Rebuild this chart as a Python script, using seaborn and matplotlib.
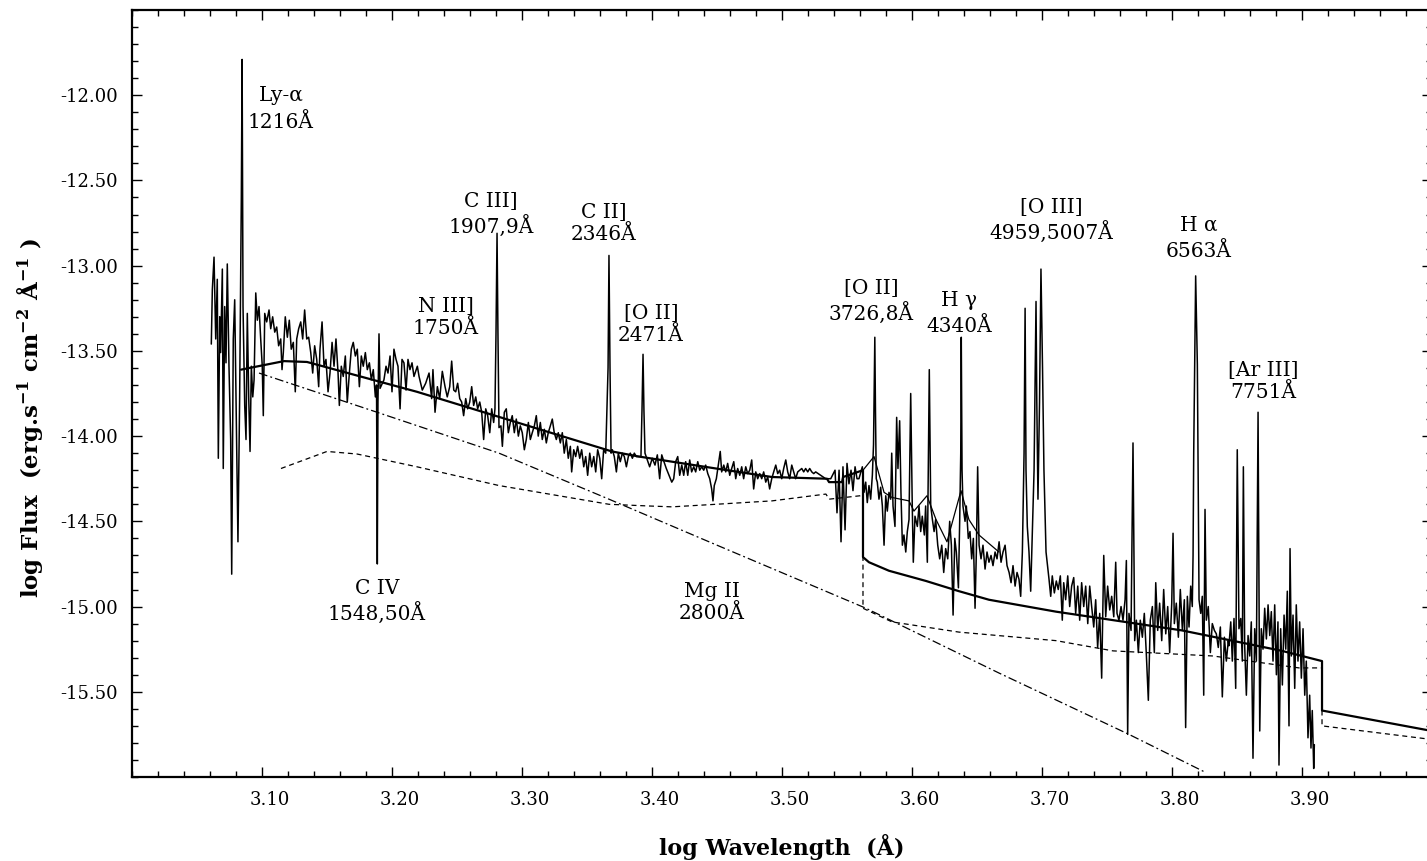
import numpy as np
import pandas as pd
import matplotlib
matplotlib.use("Agg")
import matplotlib.pyplot as plt
import matplotlib.transforms as mtransforms
import seaborn as sns
from matplotlib.ticker import FixedLocator, MultipleLocator, FormatStrFormatter

# style
sns.set_style("ticks")
plt.rcParams['font.family'] = ['DejaVu Serif']
plt.rcParams['mathtext.fontset'] = 'dejavuserif'
plt.rcParams['mathtext.default'] = 'bf'
plt.rcParams['text.color'] = 'black'
plt.rcParams['axes.labelcolor'] = 'black'

blue_logw = [3.0610, 3.0618, 3.0631, 3.0644, 3.0656, 3.0664, 3.0675, 3.0682, 3.0695, 3.0702,
             3.0713, 3.0723, 3.0733, 3.0746, 3.0759, 3.0767, 3.0779, 3.0790, 3.0802, 3.0815,
             3.0828, 3.0841, 3.0847, 3.0854, 3.0867, 3.0877, 3.0887, 3.0898, 3.0908, 3.0918,
             3.0929, 3.0939, 3.0952, 3.0964, 3.0977, 3.0990, 3.1002, 3.1010, 3.1021, 3.1036,
             3.1054, 3.1067, 3.1082, 3.1098, 3.1113, 3.1128, 3.1144, 3.1154, 3.1164, 3.1179,
             3.1195, 3.1210, 3.1225, 3.1241, 3.1256, 3.1267, 3.1282, 3.1298, 3.1313, 3.1328,
             3.1344, 3.1359, 3.1375, 3.1390, 3.1405, 3.1421, 3.1436, 3.1446, 3.1462, 3.1477,
             3.1492, 3.1508, 3.1523, 3.1539, 3.1554, 3.1569, 3.1585, 3.1595, 3.1610, 3.1625,
             3.1641, 3.1656, 3.1672, 3.1687, 3.1702, 3.1718, 3.1733, 3.1749, 3.1764, 3.1779,
             3.1795, 3.1810, 3.1826, 3.1841, 3.1856, 3.1872, 3.1881, 3.1887, 3.1892, 3.1900,
             3.1908, 3.1938, 3.1954, 3.1969, 3.1985, 3.2000, 3.2015, 3.2031, 3.2046, 3.2062,
             3.2077, 3.2092, 3.2108, 3.2123, 3.2138, 3.2154, 3.2169, 3.2195]
blue_logf = [-13.46, -13.14, -12.95, -13.43, -13.08, -14.13, -13.30, -13.51, -13.02, -14.19,
             -13.24, -13.57, -12.99, -13.59, -14.02, -14.81, -13.43, -13.20, -13.88, -14.62,
             -13.78, -12.60, -11.79, -13.24, -13.82, -14.02, -13.28, -13.78, -14.09, -13.59,
             -13.77, -13.67, -13.16, -13.32, -13.24, -13.43, -13.59, -13.88, -13.28, -13.33,
             -13.26, -13.37, -13.30, -13.39, -13.36, -13.47, -13.43, -13.61, -13.51, -13.30,
             -13.42, -13.32, -13.49, -13.45, -13.74, -13.43, -13.37, -13.33, -13.43, -13.26,
             -13.43, -13.42, -13.51, -13.63, -13.47, -13.55, -13.71, -13.49, -13.33, -13.59,
             -13.55, -13.74, -13.63, -13.45, -13.59, -13.43, -13.63, -13.82, -13.59, -13.65,
             -13.53, -13.80, -13.63, -13.49, -13.45, -13.53, -13.49, -13.71, -13.53, -13.59,
             -13.51, -13.61, -13.57, -13.67, -13.61, -13.77, -13.70, -14.75, -13.80, -13.40,
             -13.72, -13.67, -13.59, -13.63, -13.53, -13.74, -13.49, -13.55, -13.59, -13.84,
             -13.55, -13.57, -13.73, -13.55, -13.61, -13.57, -13.65, -13.59]

mid_logw = [3.2208, 3.2233, 3.2259, 3.2285, 3.2305, 3.2315, 3.2331, 3.2349, 3.2367, 3.2387,
            3.2408, 3.2425, 3.2444, 3.2459, 3.2475, 3.2490, 3.2505, 3.2521, 3.2536, 3.2551,
            3.2567, 3.2582, 3.2598, 3.2613, 3.2628, 3.2644, 3.2659, 3.2675, 3.2690, 3.2705,
            3.2721, 3.2736, 3.2752, 3.2767, 3.2782, 3.2792, 3.2800, 3.2808, 3.2815, 3.2823,
            3.2838, 3.2849, 3.2864, 3.2879, 3.2895, 3.2910, 3.2925, 3.2941, 3.2956, 3.2972,
            3.2987, 3.3002, 3.3018, 3.3033, 3.3049, 3.3064, 3.3079, 3.3095, 3.3110, 3.3125,
            3.3141, 3.3156, 3.3172, 3.3187, 3.3202, 3.3218, 3.3233, 3.3248, 3.3264, 3.3279,
            3.3295, 3.3310, 3.3325, 3.3341, 3.3356, 3.3372, 3.3382, 3.3398, 3.3413, 3.3428,
            3.3444, 3.3459, 3.3475, 3.3490, 3.3505, 3.3521, 3.3536, 3.3552, 3.3567, 3.3582,
            3.3598, 3.3613, 3.3628, 3.3644, 3.3662, 3.3669, 3.3677, 3.3685, 3.3695, 3.3710,
            3.3726, 3.3741, 3.3756, 3.3772, 3.3787, 3.3803, 3.3818, 3.3833, 3.3849, 3.3864,
            3.3879, 3.3915, 3.3923, 3.3931, 3.3938, 3.3946, 3.3964, 3.3982, 3.4002, 3.4023,
            3.4041, 3.4059, 3.4075, 3.4092, 3.4110, 3.4131, 3.4152, 3.4167, 3.4182, 3.4198,
            3.4213, 3.4229, 3.4244, 3.4259, 3.4275, 3.4290, 3.4305, 3.4321, 3.4336, 3.4352,
            3.4367, 3.4382, 3.4398, 3.4413, 3.4429, 3.4444, 3.4459, 3.4469, 3.4479, 3.4495,
            3.4510, 3.4525, 3.4536, 3.4552, 3.4567, 3.4582, 3.4598, 3.4613, 3.4629, 3.4644,
            3.4659, 3.4675, 3.4690, 3.4705, 3.4721, 3.4736, 3.4752, 3.4767, 3.4782, 3.4798,
            3.4813, 3.4829, 3.4844, 3.4859, 3.4875, 3.4890, 3.4905, 3.4921, 3.4936, 3.4952,
            3.4967, 3.4982, 3.4998, 3.5013, 3.5029, 3.5044, 3.5059, 3.5075, 3.5090, 3.5105,
            3.5121, 3.5136, 3.5152, 3.5167, 3.5182, 3.5198, 3.5213, 3.5229, 3.5244, 3.5259,
            3.5336, 3.5375]
mid_logf = [-13.65, -13.73, -13.69, -13.63, -13.78, -13.61, -13.86, -13.71, -13.78, -13.62,
            -13.71, -13.77, -13.71, -13.56, -13.73, -13.74, -13.69, -13.78, -13.80, -13.88,
            -13.78, -13.84, -13.80, -13.71, -13.82, -13.77, -13.84, -13.80, -13.86, -14.02,
            -13.84, -13.88, -13.98, -13.84, -13.92, -13.84, -13.40, -12.81, -13.40, -13.95,
            -13.94, -14.06, -13.86, -13.84, -13.98, -13.92, -13.88, -13.98, -13.90, -14.00,
            -13.94, -13.98, -14.08, -14.02, -13.92, -14.02, -13.98, -13.94, -13.88, -14.00,
            -13.92, -14.02, -13.96, -14.04, -13.98, -13.94, -13.90, -13.98, -14.02, -13.98,
            -14.04, -13.98, -14.10, -14.02, -14.13, -14.06, -14.21, -14.08, -14.12, -14.06,
            -14.13, -14.08, -14.18, -14.12, -14.23, -14.10, -14.18, -14.12, -14.21, -14.08,
            -14.13, -14.25, -14.08, -14.10, -13.60, -12.94, -13.60, -14.10, -14.08, -14.12,
            -14.21, -14.10, -14.15, -14.10, -14.12, -14.18, -14.12, -14.10, -14.13, -14.10,
            -14.12, -14.12, -13.85, -13.52, -13.85, -14.10, -14.14, -14.18, -14.13, -14.17,
            -14.11, -14.25, -14.11, -14.15, -14.19, -14.23, -14.27, -14.25, -14.15, -14.12,
            -14.23, -14.17, -14.23, -14.15, -14.23, -14.14, -14.21, -14.18, -14.21, -14.15,
            -14.20, -14.18, -14.20, -14.17, -14.22, -14.25, -14.31, -14.38, -14.29, -14.25,
            -14.17, -14.09, -14.21, -14.17, -14.21, -14.16, -14.23, -14.19, -14.15, -14.25,
            -14.19, -14.23, -14.18, -14.25, -14.18, -14.22, -14.20, -14.14, -14.31, -14.21,
            -14.25, -14.22, -14.25, -14.21, -14.27, -14.24, -14.31, -14.25, -14.21, -14.17,
            -14.22, -14.20, -14.25, -14.19, -14.14, -14.21, -14.25, -14.17, -14.21, -14.25,
            -14.21, -14.20, -14.19, -14.21, -14.19, -14.21, -14.19, -14.21, -14.22, -14.21,
            -14.25, -14.25]

red_logw = [3.5408, 3.5423, 3.5439, 3.5454, 3.5469, 3.5485, 3.5500, 3.5515, 3.5531, 3.5546,
            3.5562, 3.5577, 3.5592, 3.5618, 3.5631, 3.5644, 3.5656, 3.5669, 3.5682, 3.5695,
            3.5704, 3.5709, 3.5714, 3.5719, 3.5725, 3.5733, 3.5746, 3.5759, 3.5772, 3.5785,
            3.5798, 3.5810, 3.5823, 3.5836, 3.5844, 3.5854, 3.5869, 3.5882, 3.5892, 3.5905,
            3.5915, 3.5926, 3.5938, 3.5952, 3.5964, 3.5977, 3.5990, 3.6002, 3.6010, 3.6023,
            3.6041, 3.6054, 3.6067, 3.6079, 3.6095, 3.6105, 3.6118, 3.6133, 3.6144, 3.6157,
            3.6170, 3.6182, 3.6198, 3.6213, 3.6229, 3.6244, 3.6259, 3.6275, 3.6290, 3.6303,
            3.6316, 3.6329, 3.6341, 3.6357, 3.6367, 3.6375, 3.6379, 3.6385, 3.6392, 3.6408,
            3.6418, 3.6433, 3.6446, 3.6459, 3.6472, 3.6485, 3.6495, 3.6505, 3.6516, 3.6531,
            3.6546, 3.6562, 3.6577, 3.6592, 3.6608, 3.6623, 3.6639, 3.6654, 3.6670, 3.6685,
            3.6700, 3.6716, 3.6731, 3.6747, 3.6762, 3.6777, 3.6793, 3.6808, 3.6823, 3.6836,
            3.6849, 3.6862, 3.6870, 3.6877, 3.6887, 3.6900, 3.6913, 3.6926, 3.6939, 3.6948,
            3.6954, 3.6960, 3.6969, 3.6981, 3.6992, 3.7004, 3.7015, 3.7031, 3.7054]
red_logf = [-14.20, -14.45, -14.20, -14.62, -14.18, -14.55, -14.16, -14.28, -14.20, -14.32,
            -14.18, -14.25, -14.25, -14.18, -14.33, -14.27, -14.39, -14.29, -14.37, -14.23,
            -14.05, -13.75, -13.42, -13.85, -14.25, -14.27, -14.37, -14.30, -14.41, -14.64,
            -14.35, -14.44, -14.33, -14.37, -14.10, -14.41, -14.53, -13.89, -14.19, -13.91,
            -14.33, -14.64, -14.58, -14.68, -14.56, -14.49, -13.75, -14.41, -14.74, -14.47,
            -14.53, -14.41, -14.56, -14.47, -14.58, -14.41, -14.74, -13.61, -14.41, -14.49,
            -14.56, -14.49, -14.64, -14.72, -14.64, -14.80, -14.66, -14.72, -14.50, -14.64,
            -15.05, -14.60, -14.68, -14.89, -14.49, -14.10, -13.42, -14.20, -14.41, -14.50,
            -14.41, -14.60, -14.56, -14.72, -14.60, -15.01, -14.68, -14.18, -14.64, -14.72,
            -14.64, -14.78, -14.68, -14.74, -14.70, -14.76, -14.68, -14.72, -14.62, -14.74,
            -14.68, -14.64, -14.76, -14.80, -14.86, -14.76, -14.88, -14.80, -14.84, -14.94,
            -14.68, -14.10, -13.25, -14.20, -14.53, -14.68, -14.91, -14.56, -14.20, -13.60,
            -13.21, -13.80, -14.37, -13.80, -13.02, -13.60, -14.20, -14.68, -14.84]

far_logw = [3.7067, 3.7079, 3.7095, 3.7110, 3.7125, 3.7141, 3.7156, 3.7167, 3.7182, 3.7198,
            3.7213, 3.7228, 3.7244, 3.7259, 3.7275, 3.7290, 3.7305, 3.7321, 3.7336, 3.7352,
            3.7367, 3.7382, 3.7398, 3.7413, 3.7428, 3.7444, 3.7459, 3.7475, 3.7490, 3.7505,
            3.7521, 3.7536, 3.7552, 3.7567, 3.7577, 3.7592, 3.7608, 3.7623, 3.7639, 3.7649,
            3.7659, 3.7669, 3.7685, 3.7700, 3.7713, 3.7726, 3.7741, 3.7756, 3.7772, 3.7787,
            3.7802, 3.7818, 3.7833, 3.7849, 3.7864, 3.7875, 3.7890, 3.7905, 3.7921, 3.7936,
            3.7952, 3.7967, 3.7982, 3.7998, 3.8008, 3.8018, 3.8033, 3.8049, 3.8064, 3.8080,
            3.8095, 3.8105, 3.8118, 3.8131, 3.8144, 3.8156, 3.8162, 3.8167, 3.8182, 3.8195,
            3.8208, 3.8221, 3.8233, 3.8244, 3.8254, 3.8264, 3.8279, 3.8295, 3.8310, 3.8326,
            3.8341, 3.8356, 3.8372, 3.8387, 3.8403, 3.8418, 3.8433, 3.8438, 3.8452, 3.8464,
            3.8477, 3.8490, 3.8502, 3.8515, 3.8529, 3.8541, 3.8549, 3.8559, 3.8572, 3.8585,
            3.8598, 3.8610, 3.8623, 3.8636, 3.8649, 3.8662, 3.8675, 3.8687, 3.8700, 3.8713,
            3.8726, 3.8739, 3.8752, 3.8764, 3.8777, 3.8790, 3.8803, 3.8815, 3.8823, 3.8836,
            3.8849, 3.8862, 3.8875, 3.8887, 3.8900, 3.8908, 3.8918, 3.8931, 3.8944, 3.8956,
            3.8969, 3.8982, 3.8995, 3.9008, 3.9021, 3.9033, 3.9046, 3.9059, 3.9069, 3.9079,
            3.9090, 3.9095]
far_logf = [-14.94, -14.82, -14.92, -14.85, -14.90, -14.82, -15.08, -14.86, -14.96, -14.82,
            -15.00, -14.88, -14.83, -15.04, -14.88, -15.08, -14.86, -15.00, -14.88, -15.10,
            -14.88, -15.00, -15.12, -14.96, -15.24, -15.04, -15.42, -14.70, -15.06, -14.88,
            -15.02, -14.94, -15.06, -14.74, -15.04, -15.08, -15.00, -15.08, -14.96, -14.73,
            -15.75, -15.04, -15.14, -14.04, -15.20, -15.08, -15.27, -15.08, -15.18, -15.04,
            -15.27, -15.55, -15.08, -15.00, -15.27, -14.86, -15.14, -14.98, -15.20, -14.90,
            -15.16, -15.00, -15.27, -14.98, -14.57, -15.10, -14.98, -15.18, -14.90, -15.14,
            -14.96, -15.71, -14.94, -15.12, -14.88, -15.00, -14.70, -14.10, -13.06, -13.58,
            -14.96, -15.04, -14.94, -15.52, -14.43, -15.08, -15.00, -15.27, -15.10, -15.14,
            -15.16, -15.24, -15.12, -15.53, -15.18, -15.32, -15.20, -15.23, -15.09, -15.32,
            -15.07, -15.48, -14.08, -15.13, -15.07, -15.32, -14.18, -15.23, -15.52, -15.17,
            -15.29, -15.09, -15.89, -15.13, -15.32, -13.86, -15.73, -15.13, -15.25, -15.01,
            -15.19, -14.99, -15.17, -15.03, -15.32, -14.99, -15.40, -15.09, -15.93, -15.13,
            -15.46, -15.05, -15.25, -14.91, -15.70, -14.66, -15.29, -15.05, -15.48, -14.99,
            -15.32, -15.09, -15.42, -15.13, -15.52, -15.32, -15.77, -15.52, -15.83, -15.61,
            -15.95, -15.81]

# ---- model components ----
total_logw = [3.0839, 3.1169, 3.1346, 3.2192, 3.3692, 3.3900, 3.4492, 3.4923, 3.5346, 3.5362,
              3.5462, 3.5470, 3.5623, 3.5623, 3.5669, 3.5823, 3.6108, 3.6362, 3.6592, 3.7108,
              3.7285, 3.8077, 3.8846, 3.9154, 3.9154, 4.0]
total_logf = [-13.61, -13.56, -13.565, -13.74, -14.09, -14.12, -14.19, -14.24, -14.25, -14.27,
              -14.27, -14.24, -14.20, -14.71, -14.74, -14.79, -14.85, -14.91, -14.96, -15.03,
              -15.05, -15.14, -15.26, -15.32, -15.61, -15.73]

lines_logw = [3.5623, 3.5708, 3.5785, 3.5846, 3.5977, 3.6015, 3.6115, 3.6185, 3.6269, 3.6377,
              3.6438, 3.6515, 3.6669]
lines_logf = [-14.20, -14.12, -14.33, -14.36, -14.38, -14.44, -14.35, -14.49, -14.62, -14.32,
              -14.49, -14.58, -14.68]

powerlaw_logw = [3.0977, 3.1885, 3.2823, 3.3669, 3.4500, 3.5646, 3.6669, 3.7669, 3.8250]
powerlaw_logf = [-13.63, -13.86, -14.10, -14.37, -14.64, -15.01, -15.39, -15.75, -15.97]

nebular_logw = [3.1146, 3.1500, 3.1731, 3.1885, 3.2192, 3.2823, 3.3669, 3.3977, 3.4154, 3.4492,
                3.4923, 3.5338, 3.5362, 3.5600, 3.5623, 3.5623, 3.5846, 3.6362, 3.7108, 3.7546,
                3.8315, 3.8977, 3.9154, 3.9154, 4.0]
nebular_logf = [-14.19, -14.09, -14.105, -14.13, -14.18, -14.29, -14.40, -14.41, -14.415, -14.40,
                -14.38, -14.34, -14.37, -14.35, -14.34, -15.01, -15.09, -15.15, -15.20, -15.26,
                -15.29, -15.36, -15.36, -15.70, -15.78]

# ---- line identifications ----
line_labels = ["Ly-α\n1216Å", "C IV\n1548,50Å", "N III]\n1750Å", "C III]\n1907,9Å",
               "C II]\n2346Å", "[O II]\n2471Å", "Mg II\n2800Å", "[O II]\n3726,8Å",
               "H γ\n4340Å", "[O III]\n4959,5007Å", "H α\n6563Å", "[Ar III]\n7751Å"]
label_logw = [3.1146, 3.1885, 3.2415, 3.2762, 3.3631, 3.3992, 3.4462, 3.5685,
              3.6362, 3.7069, 3.8208, 3.8700]
label_logf = [-12.08, -14.97, -13.304, -12.70, -12.75, -13.345, -14.975, -13.21,
              -13.28, -12.735, -12.84, -13.678]
greek = [True, False, False, False, False, False, False, False, True, False, True, False]

spec = pd.DataFrame({'logw': blue_logw + mid_logw + red_logw + far_logw,
                     'logf': blue_logf + mid_logf + red_logf + far_logf})

fig = plt.figure(figsize=(14.27, 8.61), dpi=100)
ax = fig.add_axes([132 / 1427, 84 / 861, 1300 / 1427, 767 / 861])

sns.lineplot(data=spec, x='logw', y='logf', ax=ax, color='black', lw=1.1,
             estimator=None, sort=False)
sns.lineplot(x=total_logw, y=total_logf, ax=ax, color='black', lw=1.6,
             estimator=None, sort=False)
sns.lineplot(x=lines_logw, y=lines_logf, ax=ax, color='black', lw=0.9,
             estimator=None, sort=False)
sns.lineplot(x=powerlaw_logw, y=powerlaw_logf, ax=ax, color='black', lw=0.9,
             estimator=None, sort=False, linestyle=(0, (7, 2.5, 1.5, 2.5)))
sns.lineplot(x=nebular_logw, y=nebular_logf, ax=ax, color='black', lw=0.9,
             estimator=None, sort=False, linestyle=(0, (4, 3)))

for lab, lx, ly, gk in zip(line_labels, label_logw, label_logf, greek):
    ax.text(lx, ly, lab, ha='center', va='center', fontsize=14.5,
            linespacing=1.5 if gk else 1.2, multialignment='center')

ax.set_xlim(3.0, 4.0)
ax.set_ylim(-16.0, -11.5)
ax.xaxis.set_major_locator(FixedLocator([3.1, 3.2, 3.3, 3.4, 3.5, 3.6, 3.7, 3.8, 3.9]))
ax.xaxis.set_minor_locator(MultipleLocator(0.02))
ax.yaxis.set_major_locator(FixedLocator([-15.5, -15.0, -14.5, -14.0, -13.5, -13.0, -12.5, -12.0]))
ax.yaxis.set_minor_locator(MultipleLocator(0.1))
ax.xaxis.set_major_formatter(FormatStrFormatter('%.2f'))
ax.yaxis.set_major_formatter(FormatStrFormatter('%.2f'))
ax.tick_params(which='both', direction='in', top=True, right=True, width=1.0,
               labelsize=13, colors='black')
ax.tick_params(which='major', length=7, pad=10)
ax.tick_params(which='minor', length=4)
for sp in ax.spines.values():
    sp.set_linewidth(1.6)
    sp.set_color('black')

# the x tick labels sit a little right of their ticks in the original
shift = mtransforms.ScaledTranslation(8 / 100, 0, fig.dpi_scale_trans)
for lbl in ax.get_xticklabels():
    lbl.set_transform(lbl.get_transform() + shift)

ax.set_xlabel('log Wavelength  (Å)', fontsize=16, fontweight='bold', labelpad=18)
ax.set_ylabel('')
fig.text(30 / 1427, 1 - 418 / 861,
         'log Flux  (erg.s$^{-1}$ cm$^{-2}$ Å$^{-1}$ )',
         rotation=90, ha='center', va='center', fontsize=16.5, fontweight='bold')

fig.savefig('out.png', dpi=100)
